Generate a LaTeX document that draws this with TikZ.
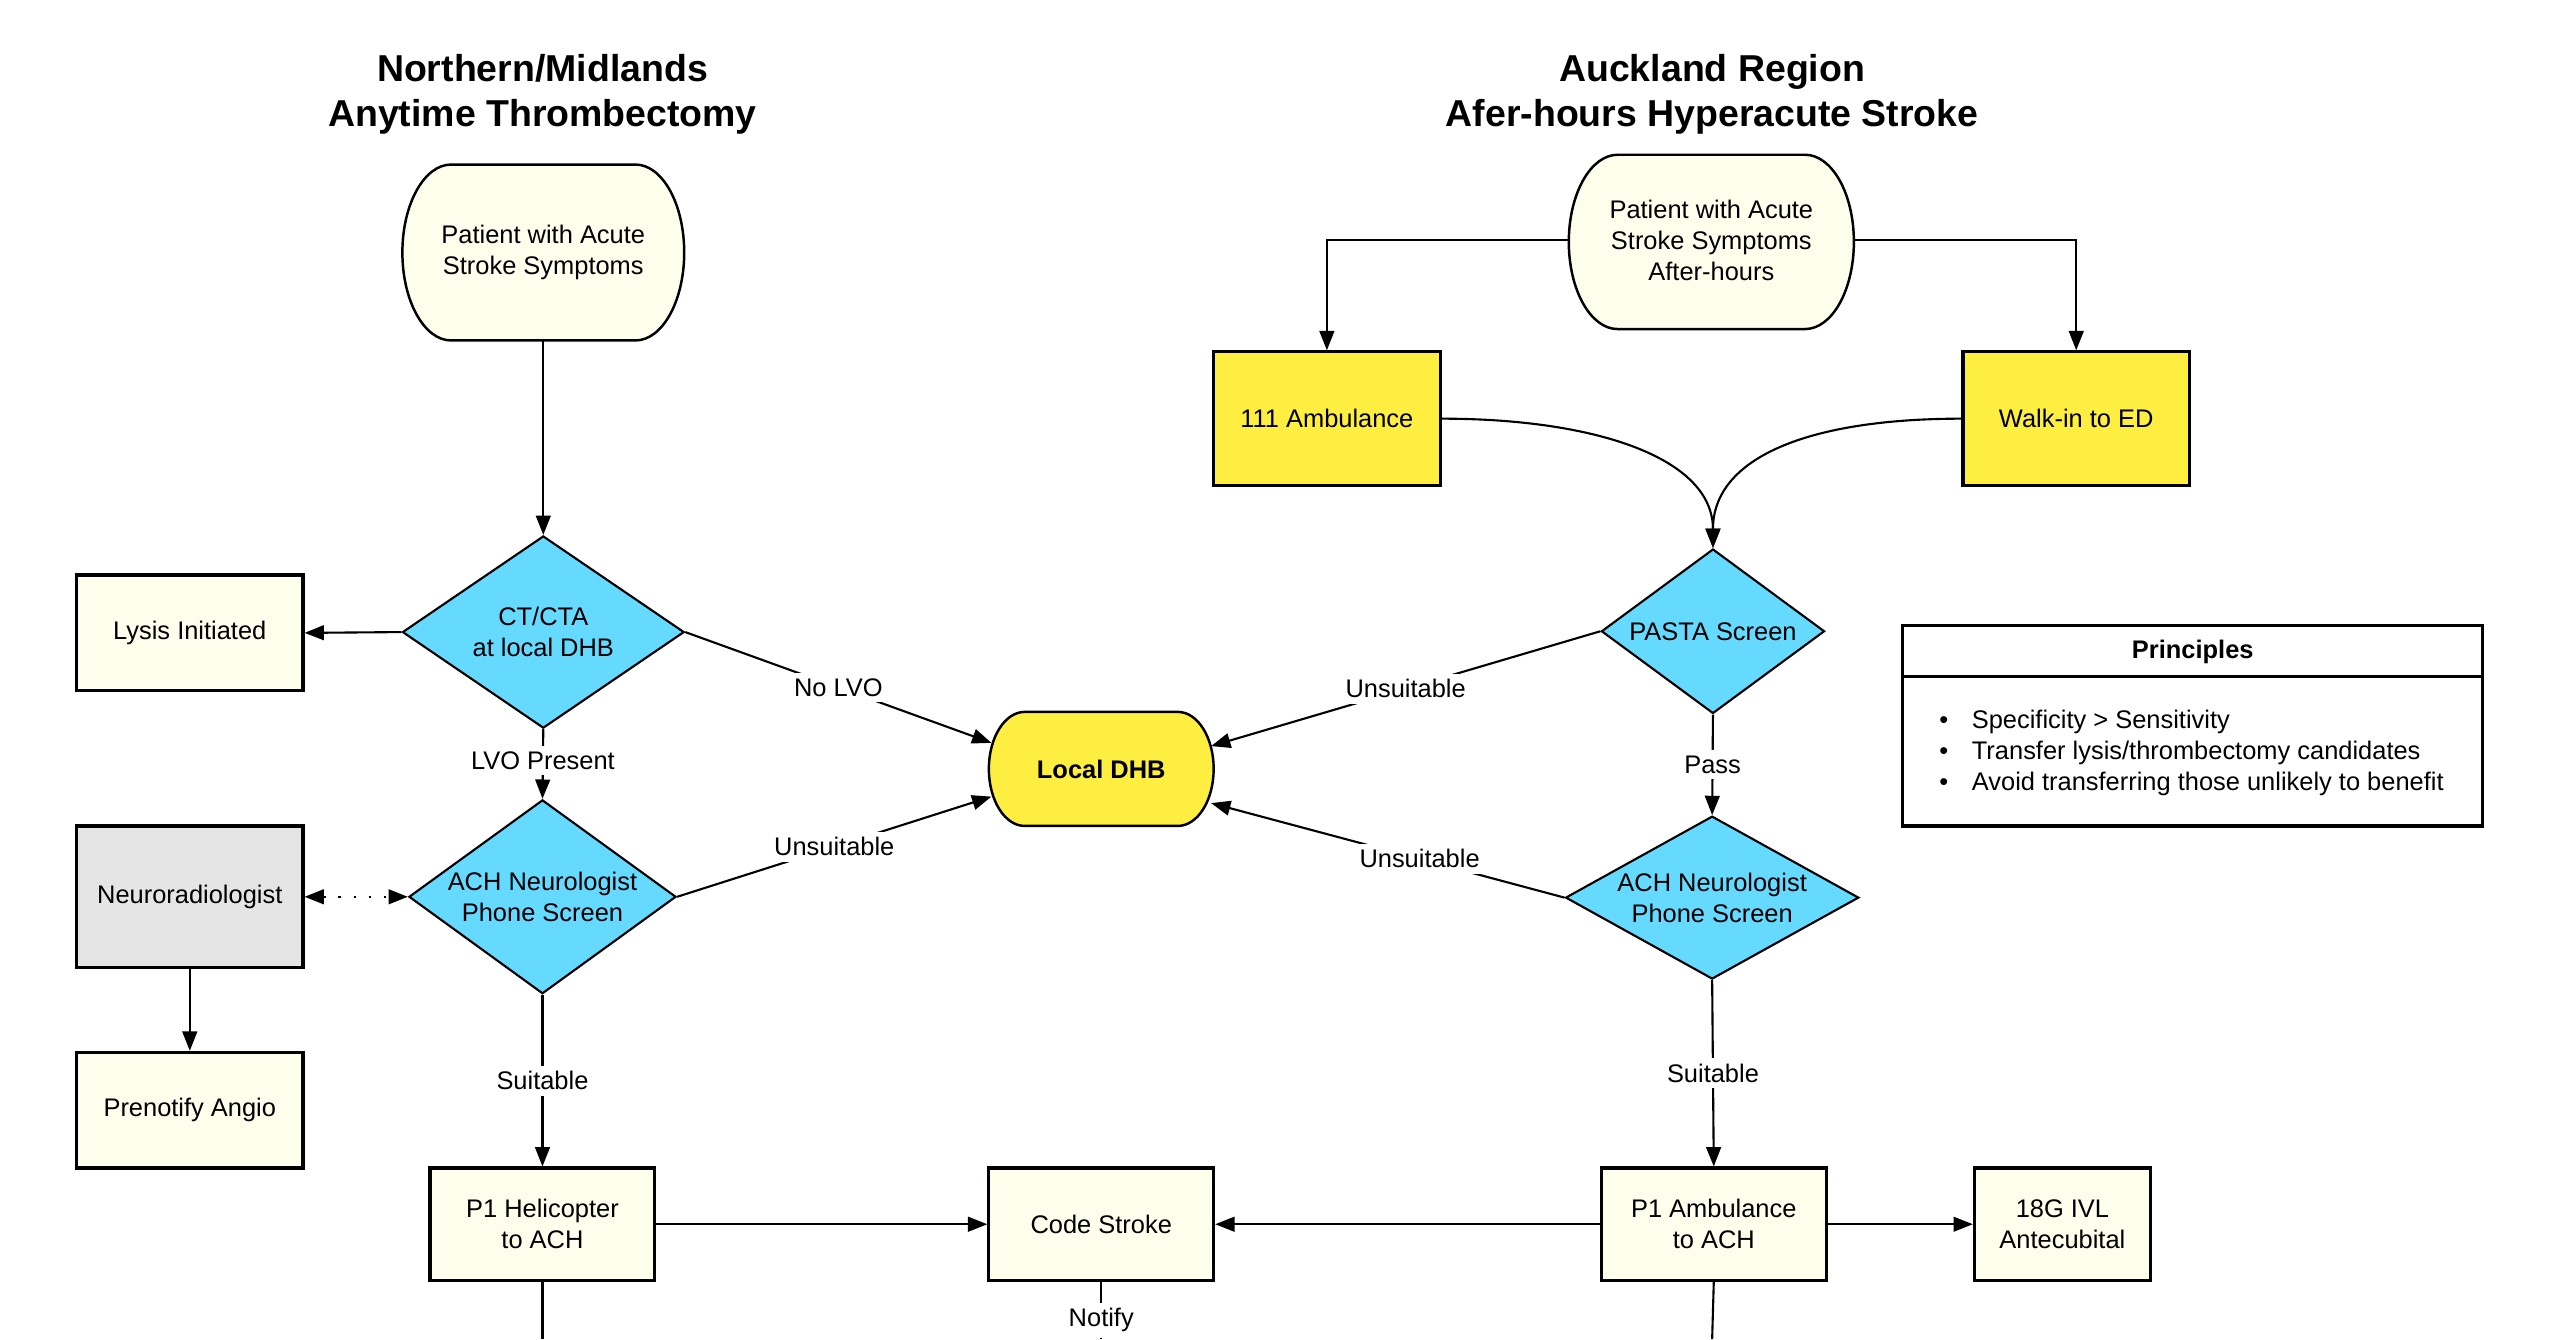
\documentclass[tikz,border=0pt]{standalone}
\usepackage{fontspec}
\setmainfont{Liberation Sans}
\usetikzlibrary{shapes.geometric,arrows.meta,calc}
\newdimen\U \U=0.016291cm
\definecolor{cream}{RGB}{254,254,236}
\definecolor{dyellow}{RGB}{255,238,66}
\definecolor{dcyan}{RGB}{102,217,255}
\definecolor{dgray}{RGB}{229,229,229}
\newcommand\mystadium[5]{%
  \begin{scope}[shift={#1}]
  \filldraw[line width=0.7pt, fill=#5]
    ({-#2+#4},{-#3}) -- ({#2-#4},{-#3})
    .. controls ({#2-0.4477*#4},{-#3}) and ({#2},{-0.5523*#3}) .. ({#2},0)
    .. controls ({#2},{0.5523*#3}) and ({#2-0.4477*#4},{#3}) .. ({#2-#4},{#3})
    -- ({-#2+#4},{#3})
    .. controls ({-#2+0.4477*#4},{#3}) and ({-#2},{0.5523*#3}) .. ({-#2},0)
    .. controls ({-#2},{-0.5523*#3}) and ({-#2+0.4477*#4},{-#3}) .. cycle;
  \end{scope}}
\tikzset{
  base/.style={font=\fontsize{7.24}{8.8}\selectfont, align=center, inner sep=0pt},
  titlestyle/.style={font=\fontsize{10.66}{13}\selectfont\bfseries, align=center, inner sep=0pt},
  box/.style={base, draw, line width=0.9pt, fill=cream},
  term/.style={base, draw=none},
  dia/.style={base, shape=diamond, draw, line width=0.6pt, fill=dcyan, inner sep=-2pt},
  lbl/.style={base, fill=white, inner sep=1.6pt},
  conn/.style={line width=0.6pt, -{Triangle[length=5.5pt,width=4.2pt]}},
  plain/.style={line width=0.6pt},
}
\begin{document}
\begin{tikzpicture}[x=0.016291cm, y={(0cm,-0.016291cm)}]
\useasboundingbox (0,0) rectangle (1569,822);

% titles
\node[titlestyle] (t1) at (333,58) {Northern/Midlands\\Anytime Thrombectomy};
\node[titlestyle] (t2) at (1051,58) {Auckland Region\\Afer-hours Hyperacute Stroke};

% terminator shapes
\mystadium{(333.5,155)}{86.5}{54}{30}{cream}
\node[term, minimum width=173*\U, minimum height=108*\U] (pat1) at (333.5,155) {Patient with Acute\\Stroke Symptoms};
\mystadium{(1050.5,148.5)}{87.5}{53.5}{30}{cream}
\node[term, minimum width=175*\U, minimum height=107*\U] (pat2) at (1050.5,147.5) {Patient with Acute\\Stroke Symptoms\\After-hours};
\mystadium{(676,472)}{69}{35}{22}{dyellow}
\node[term, font=\fontsize{7.24}{8.8}\selectfont\bfseries, minimum width=138*\U, minimum height=70*\U] (ldhb) at (676,472) {Local DHB};

% left column
\node[dia, aspect=1.47, minimum width=173*\U, minimum height=118*\U] (ct) at (333.5,388) {CT/CTA\\at local DHB};
\node[box, minimum width=139*\U, minimum height=71*\U] (lysis) at (116.5,388.5) {Lysis Initiated};
\node[dia, aspect=1.38, minimum width=164*\U, minimum height=119*\U] (ach1) at (333,550.5) {ACH Neurologist\\Phone Screen};
\node[box, fill=dgray, minimum width=139*\U, minimum height=87*\U] (neuro) at (116.5,550.5) {Neuroradiologist};
\node[box, minimum width=139*\U, minimum height=71*\U] (prenot) at (116.5,681.5) {Prenotify Angio};
\node[box, minimum width=138*\U, minimum height=69*\U] (p1heli) at (333,751.5) {P1 Helicopter\\to ACH};
\node[box, minimum width=138*\U, minimum height=69*\U] (cs) at (676,751.5) {Code Stroke};

% right column
\node[box, fill=dyellow, minimum width=139*\U, minimum height=82*\U] (amb) at (814.5,257) {111 Ambulance};
\node[box, fill=dyellow, minimum width=139*\U, minimum height=82*\U] (walk) at (1274.5,257) {Walk-in to ED};
\node[dia, aspect=1.36, minimum width=137*\U, minimum height=101*\U] (pasta) at (1051.5,387.5) {PASTA Screen};
\node[dia, aspect=1.8, minimum width=180*\U, minimum height=100*\U] (ach2) at (1051,551) {ACH Neurologist\\Phone Screen};
\node[box, minimum width=138*\U, minimum height=69*\U] (p1amb) at (1052,751.5) {P1 Ambulance\\to ACH};
\node[box, minimum width=108*\U, minimum height=69*\U] (ivl) at (1266,751.5) {18G IVL\\Antecubital};

% principles
\node[draw, line width=0.9pt, minimum width=356*\U, minimum height=123*\U, inner sep=0pt] (princ) at (1346,445.5) {};
\draw[line width=0.9pt] ($(princ.north west)+(0,32)$) -- ($(princ.north east)+(0,32)$);
\node[base, font=\fontsize{7.24}{8.8}\selectfont\bfseries] (princt) at (1346,400) {Principles};
\node[base, anchor=west, align=left] (princb) at (1190,462) {%
\makebox[20\U][l]{\textbullet}Specificity > Sensitivity\\
\makebox[20\U][l]{\textbullet}Transfer lysis/thrombectomy candidates\\
\makebox[20\U][l]{\textbullet}Avoid transferring those unlikely to benefit};

% bottom free ends
\coordinate (b1) at (333,822);
\coordinate (b2) at (676,822);
\coordinate (b3) at (1051,822);

% connectors left
\draw[conn] (pat1.south) -- (ct.north);
\draw[conn] (ct.west) -- (lysis.east);
\draw[conn] (ct.south) -- node[lbl, pos=0.45] {LVO Present} (ach1.north);
\draw[conn] (ct.east) -- node[lbl] {No LVO} ($(ldhb.west)+(2,-16)$);
\draw[line width=0.6pt, dash pattern=on 0.7pt off 3.6pt, {Triangle[length=5.5pt,width=4.2pt]}-{Triangle[length=5.5pt,width=4.2pt]}] (neuro.east) -- (ach1.west);
\draw[conn] (neuro.south) -- (prenot.north);
\draw[conn] (ach1.east) -- node[lbl] {Unsuitable} ($(ldhb.west)+(2,17)$);
\draw[conn] (ach1.south) -- node[lbl] {Suitable} (p1heli.north);
\draw[conn] (p1heli.east) -- (cs.west);
\draw[plain] (p1heli.south) -- (b1);
\draw[plain] (cs.south) -- node[lbl, pos=0.67] {Notify} (b2);

% connectors right
\draw[conn] (pat2.west) -| (amb.north);
\draw[conn] (pat2.east) -| (walk.north);
\draw[conn] (amb.east) .. controls +(95,0) and +(0,-55) .. (pasta.north);
\draw[conn] (walk.west) .. controls +(-95,0) and +(0,-55) .. (pasta.north);
\draw[conn] (pasta.west) -- node[lbl] {Unsuitable} ($(ldhb.east)+(-2,-14)$);
\draw[conn] (pasta.south) -- node[lbl] {Pass} (ach2.north);
\draw[conn] (ach2.west) -- node[lbl, pos=0.41] {Unsuitable} ($(ldhb.east)+(-2,21)$);
\draw[conn] (ach2.south) -- node[lbl] {Suitable} (p1amb.north);
\draw[conn] (p1amb.west) -- (cs.east);
\draw[conn] (p1amb.east) -- (ivl.west);
\draw[plain] (p1amb.south) -- (b3);
\end{tikzpicture}
\end{document}
